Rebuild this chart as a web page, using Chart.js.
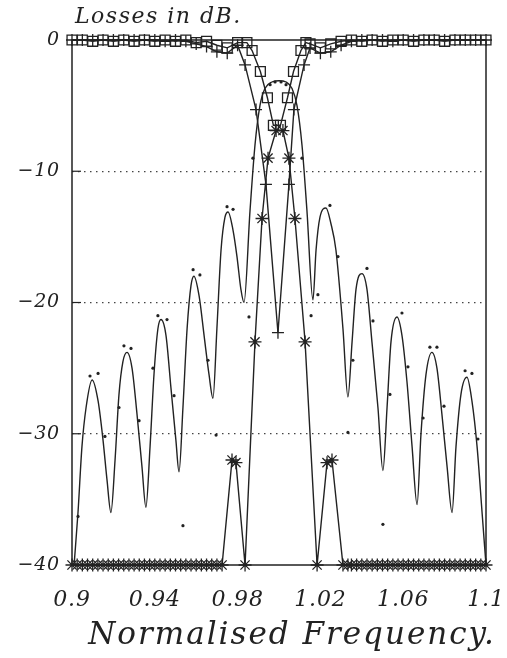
<!DOCTYPE html>
<html>
<head>
<meta charset="utf-8">
<script src="https://cdn.jsdelivr.net/npm/chart.js@4/dist/chart.umd.min.js"></script>
<style>
  html, body { margin: 0; padding: 0; background: #fff; }
  canvas { display: block; }
</style>
</head>
<body>
<canvas id="chart" width="507" height="658"></canvas>
<script>
// filter response, losses in dB against normalised frequency

const yTitle = 'Losses in dB.';
const xTitle = 'Normalised Frequency.';
const xTickValues = [0.9, 0.94, 0.98, 1.02, 1.06, 1.1];
const xTickLabels = ['0.9', '0.94', '0.98', '1.02', '1.06', '1.1'];
const yTickValues = [0, -10, -20, -30, -40];
const yTickLabels = ['0', '\u221210', '\u221220', '\u221230', '\u221240'];

// solid sidelobe curve
const lobeFreq = [0.9010, 0.9029, 0.9048, 0.9068, 0.9097, 0.9126, 0.9150, 0.9169, 0.9188, 0.9208,
  0.9227, 0.9246, 0.9266, 0.9290, 0.9314, 0.9338, 0.9357, 0.9377, 0.9396, 0.9415,
  0.9430, 0.9454, 0.9478, 0.9502, 0.9517, 0.9536, 0.9556, 0.9575, 0.9589, 0.9614,
  0.9638, 0.9662, 0.9681, 0.9700, 0.9720, 0.9739, 0.9754, 0.9778, 0.9797, 0.9816,
  0.9831, 0.9860, 0.9884, 0.9908, 0.9932, 0.9966, 1.0000, 1.0034, 1.0063, 1.0087,
  1.0111, 1.0135, 1.0164, 1.0179, 1.0198, 1.0227, 1.0251, 1.0275, 1.0309, 1.0333,
  1.0353, 1.0372, 1.0401, 1.0425, 1.0449, 1.0478, 1.0502, 1.0522, 1.0541, 1.0570,
  1.0594, 1.0618, 1.0643, 1.0667, 1.0686, 1.0710, 1.0739, 1.0763, 1.0787, 1.0812,
  1.0836, 1.0855, 1.0879, 1.0908, 1.0932, 1.0957, 1.0981, 1.1000];
const lobeLoss = [-40, -36, -31, -28, -25.9, -27.5, -30.5, -33.5, -36, -32,
  -27, -24.5, -23.8, -25, -28.5, -32.5, -35.6, -31, -25.5, -22,
  -21.3, -22.5, -26.5, -30.5, -32.9, -28, -22, -18.7, -18, -19.5,
  -22.5, -25.5, -27.3, -22, -16, -13.5, -13.1, -14.5, -16.5, -19,
  -20, -13, -8, -5, -3.7, -3.2, -3.1, -3.2, -3.7, -5,
  -8, -13, -19.8, -16, -13.5, -12.8, -14, -16, -22, -27.2,
  -23, -19, -17.8, -19, -23, -28, -32.8, -28, -23, -21.1,
  -22.5, -26, -31, -35.4, -30, -25.5, -23.8, -25, -28.5, -32.5,
  -36, -31, -27, -25.7, -27.5, -31, -36, -40];

// square markers
const squareFreq = [0.900, 0.905, 0.910, 0.915, 0.920, 0.925, 0.930, 0.935, 0.940, 0.945,
  0.950, 0.955, 0.960, 0.965, 0.970, 0.975, 0.980, 0.9845, 0.987, 0.991,
  0.9944, 0.9973, 1.0007, 1.0041, 1.007, 1.0106, 1.013, 1.015, 1.020, 1.025,
  1.030, 1.035, 1.040, 1.045, 1.050, 1.055, 1.060, 1.065, 1.070, 1.075,
  1.080, 1.085, 1.090, 1.095, 1.100];
const squareLoss = [0, 0, -0.1, 0, -0.1, 0, -0.1, 0, -0.1, 0,
  -0.1, 0, -0.2, -0.1, -0.4, -0.6, -0.2, -0.2, -0.8, -2.4,
  -4.4, -6.5, -6.5, -4.4, -2.4, -0.8, -0.2, -0.3, -0.6, -0.3,
  -0.1, 0, -0.1, 0, -0.1, 0, 0, -0.1, 0, 0,
  -0.1, 0, 0, 0, 0];

// plus markers
const plusFreq = [0.900, 0.905, 0.910, 0.915, 0.920, 0.925, 0.930, 0.935, 0.940, 0.945,
  0.950, 0.955, 0.960, 0.965, 0.970, 0.975, 0.980, 0.9836, 0.9889, 0.9937,
  0.9995, 1.0048, 1.0072, 1.0121, 1.015, 1.020, 1.025, 1.030, 1.035, 1.040,
  1.045, 1.050, 1.055, 1.060, 1.065, 1.070, 1.075, 1.080, 1.085, 1.090,
  1.095, 1.100];
const plusLoss = [0, 0, 0, 0, 0, 0, 0, 0, 0, -0.1,
  0, -0.1, -0.3, -0.5, -0.9, -1.0, -0.4, -1.9, -5.3, -11,
  -22.3, -11, -5.3, -1.9, -0.6, -1.0, -0.9, -0.4, -0.1, 0,
  0, 0, -0.1, 0, 0, 0, 0, 0, 0, 0,
  0, 0];

// star markers
const starFreq = [0.9000, 0.9025, 0.9050, 0.9075, 0.9100, 0.9125, 0.9150, 0.9175, 0.9200, 0.9225,
  0.9250, 0.9275, 0.9300, 0.9325, 0.9350, 0.9375, 0.9400, 0.9425, 0.9450, 0.9475,
  0.9500, 0.9525, 0.9550, 0.9575, 0.9600, 0.9625, 0.9650, 0.9675, 0.9700, 0.9725,
  0.9773, 0.9792, 0.9836, 0.9884, 0.9918, 0.9947, 0.9986, 1.0019, 1.0048, 1.0077,
  1.0126, 1.0184, 1.0232, 1.0256, 1.0309, 1.0333, 1.0350, 1.0375, 1.0400, 1.0425,
  1.0450, 1.0475, 1.0500, 1.0525, 1.0550, 1.0575, 1.0600, 1.0625, 1.0650, 1.0675,
  1.0700, 1.0725, 1.0750, 1.0775, 1.0800, 1.0825, 1.0850, 1.0875, 1.0900, 1.0925,
  1.0950, 1.0975, 1.1000];
const starLoss = [-40, -40, -40, -40, -40, -40, -40, -40, -40, -40,
  -40, -40, -40, -40, -40, -40, -40, -40, -40, -40,
  -40, -40, -40, -40, -40, -40, -40, -40, -40, -40,
  -32, -32.2, -40, -23, -13.6, -9, -6.9, -6.9, -9, -13.6,
  -23, -40, -32.2, -32, -40, -40, -40, -40, -40, -40,
  -40, -40, -40, -40, -40, -40, -40, -40, -40, -40,
  -40, -40, -40, -40, -40, -40, -40, -40, -40, -40,
  -40, -40, -40];

// isolated dots
const dotFreq = [0.9029, 0.9087, 0.9126, 0.9159, 0.9227, 0.9251, 0.9285, 0.9324, 0.9391, 0.9415,
  0.9459, 0.9493, 0.9536, 0.9585, 0.9618, 0.9657, 0.9696, 0.9749, 0.9778, 0.9855,
  0.9874, 0.9957, 0.9981, 1.0010, 1.0034, 1.0111, 1.0155, 1.0188, 1.0246, 1.0285,
  1.0333, 1.0357, 1.0425, 1.0454, 1.0502, 1.0536, 1.0594, 1.0623, 1.0696, 1.0729,
  1.0763, 1.0797, 1.0899, 1.0932, 1.0961];
const dotLoss = [-36.3, -25.6, -25.4, -30.2, -28, -23.3, -23.5, -29, -25, -21,
  -21.3, -27.1, -37, -17.5, -17.9, -24.4, -30.1, -12.7, -12.9, -21.1,
  -9, -3.4, -3.2, -3.2, -3.4, -9, -21, -19.4, -12.6, -16.5,
  -29.9, -24.4, -17.4, -21.4, -36.9, -27, -20.8, -24.9, -28.8, -23.4,
  -23.4, -27.9, -25.2, -25.4, -30.4];

const ink = '#222';
const serif = "'DejaVu Serif', 'Liberation Serif', serif";

function pts(xs, ys) {
  return xs.map((x, i) => ({ x: x, y: ys[i] }));
}

// white page, closed frame, inside tick marks, both titles
const framePlugin = {
  id: 'frame',
  beforeDraw(chart) {
    const ctx = chart.ctx;
    ctx.save();
    ctx.fillStyle = '#fff';
    ctx.fillRect(0, 0, chart.width, chart.height);
    ctx.restore();
    ctx.letterSpacing = '0.8px';
  },
  beforeDatasetsDraw(chart) {
    const ctx = chart.ctx;
    const a = chart.chartArea;
    const y = chart.scales.y;
    ctx.save();
    ctx.strokeStyle = ink;
    ctx.lineWidth = 1.5;
    ctx.strokeRect(a.left, a.top, a.right - a.left, a.bottom - a.top);
    ctx.lineWidth = 1.2;
    [-10, -20, -30].forEach(v => {
      const py = y.getPixelForValue(v);
      ctx.beginPath();
      ctx.moveTo(a.left, py);
      ctx.lineTo(a.left + 9, py);
      ctx.stroke();
    });
    ctx.fillStyle = ink;
    ctx.textBaseline = 'alphabetic';
    ctx.textAlign = 'left';
    ctx.letterSpacing = '1.5px';
    ctx.font = 'italic 22px ' + serif;
    ctx.fillText(yTitle, a.left + 3, 23);
    ctx.letterSpacing = '2px';
    ctx.font = 'italic 31px ' + serif;
    ctx.textAlign = 'center';
    ctx.fillText(xTitle, 292, 644);
    ctx.restore();
  }
};

const lineBase = {
  borderColor: ink,
  backgroundColor: 'rgba(0,0,0,0)',
  borderWidth: 1.4,
  pointBorderColor: ink,
  pointBorderWidth: 1.3,
  fill: false
};

new Chart(document.getElementById('chart'), {
  type: 'scatter',
  data: {
    datasets: [
      Object.assign({}, lineBase, {
        label: 'response',
        data: pts(lobeFreq, lobeLoss),
        showLine: true,
        cubicInterpolationMode: 'monotone',
        pointRadius: 0
      }),
      Object.assign({}, lineBase, {
        label: 'squares',
        data: pts(squareFreq, squareLoss),
        showLine: true,
        pointStyle: 'rect',
        pointRadius: 7,
        pointBackgroundColor: 'rgba(0,0,0,0)'
      }),
      Object.assign({}, lineBase, {
        label: 'plus',
        data: pts(plusFreq, plusLoss),
        showLine: true,
        pointStyle: 'cross',
        pointRadius: 6
      }),
      Object.assign({}, lineBase, {
        label: 'stars',
        data: pts(starFreq, starLoss),
        showLine: true,
        pointStyle: 'star',
        pointRadius: 6.5
      }),
      Object.assign({}, lineBase, {
        label: 'dots',
        data: pts(dotFreq, dotLoss),
        showLine: false,
        pointStyle: 'circle',
        pointRadius: 1.6,
        pointBackgroundColor: ink,
        pointBorderWidth: 0
      })
    ]
  },
  options: {
    responsive: false,
    animation: false,
    clip: false,
    layout: {
      padding: { top: 40, right: 21, left: 0, bottom: 0 }
    },
    plugins: {
      legend: { display: false },
      tooltip: { enabled: false },
      title: { display: false }
    },
    scales: {
      x: {
        type: 'linear',
        min: 0.9,
        max: 1.1,
        afterBuildTicks: scale => {
          scale.ticks = xTickValues.map(v => ({ value: v }));
        },
        afterFit: scale => {
          scale.height = 93;
          scale.paddingLeft = 0;
          scale.paddingRight = 0;
        },
        grid: { display: false, drawTicks: false },
        border: { display: false },
        ticks: {
          color: ink,
          padding: 22,
          maxRotation: 0,
          font: { family: serif, style: 'italic', size: 22 },
          callback: (v, i) => xTickLabels[i]
        }
      },
      y: {
        min: -40,
        max: 0,
        afterBuildTicks: scale => {
          scale.ticks = yTickValues.map(v => ({ value: v }));
        },
        afterFit: scale => { scale.width = 72; },
        grid: {
          drawTicks: false,
          color: ctx => (ctx.tick && (ctx.tick.value === 0 || ctx.tick.value === -40)) ? 'rgba(0,0,0,0)' : '#444',
          lineWidth: 1.2
        },
        border: { display: false, dash: [1.5, 4.5] },
        ticks: {
          color: ink,
          padding: 12,
          font: { family: serif, style: 'italic', size: 19 },
          callback: (v, i) => yTickLabels[i]
        }
      }
    }
  },
  plugins: [framePlugin]
});
</script>
</body>
</html>
